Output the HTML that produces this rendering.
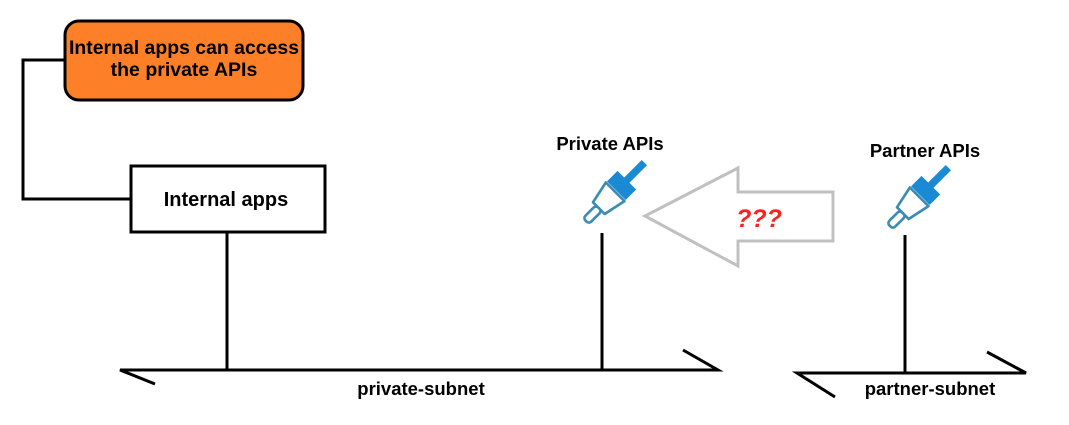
<!DOCTYPE html>
<html><head><meta charset="utf-8"><style>
body{margin:0;background:#fff;width:1069px;height:420px;overflow:hidden;font-family:"Liberation Sans",Arial,sans-serif}
</style></head><body>
<svg width="1069" height="420" viewBox="0 0 1069 420" xmlns="http://www.w3.org/2000/svg" font-family="Liberation Sans, Arial, sans-serif">
<defs>
<g id="plug">
<line x1="0" y1="-14" x2="0" y2="-32" stroke="#1a8ad4" stroke-width="4.5"/>
<rect x="-8" y="-17" width="16" height="9" fill="#1a8ad4"/>
<path d="M-8,-7 L8,-7 L5,7 L-5,7 Z" fill="#fff" stroke="#3a8bb5" stroke-width="1.6" stroke-linejoin="round"/>
<rect x="-2.5" y="7" width="5" height="11" rx="2" fill="#fff" stroke="#3a8bb5" stroke-width="1.6"/>
</g>
</defs>
<polyline points="64,60 23,60 23,199 130,199" fill="none" stroke="#000" stroke-width="3"/>
<rect x="65" y="21" width="238" height="79" rx="14" fill="#fd7f28" stroke="#000" stroke-width="3"/>
<text x="184" y="54" text-anchor="middle" font-size="19.5" font-weight="bold" textLength="230" lengthAdjust="spacingAndGlyphs">Internal apps can access</text>
<text x="184" y="76" text-anchor="middle" font-size="19.5" font-weight="bold">the private APIs</text>
<rect x="131" y="166" width="194" height="66" fill="#fff" stroke="#000" stroke-width="3"/>
<text x="226" y="206" text-anchor="middle" font-size="20" font-weight="bold">Internal apps</text>
<line x1="227" y1="232" x2="227" y2="370" stroke="#000" stroke-width="3"/>
<line x1="602" y1="233" x2="602" y2="370" stroke="#000" stroke-width="3"/>
<polyline points="155,384 120,370 718,370 683,350" fill="none" stroke="#000" stroke-width="3"/>
<text x="421" y="395" text-anchor="middle" font-size="18.5" font-weight="bold">private-subnet</text>
<line x1="905" y1="235" x2="905" y2="373" stroke="#000" stroke-width="3"/>
<polyline points="835,397 797,373 1026,373 987,352" fill="none" stroke="#000" stroke-width="3"/>
<text x="930" y="395" text-anchor="middle" font-size="18.5" font-weight="bold">partner-subnet</text>
<polygon points="645,216 738,168 738,192 833,192 833,241 738,241 738,266" fill="#fff" stroke="#c0c0c0" stroke-width="3"/>
<text x="759" y="227" text-anchor="middle" font-size="25" font-weight="bold" font-style="italic" fill="#ff2020">???</text>
<text x="610" y="150" text-anchor="middle" font-size="18.5" font-weight="bold">Private APIs</text>
<text x="925" y="157" text-anchor="middle" font-size="18.5" font-weight="bold">Partner APIs</text>
<g transform="translate(607,200) rotate(45) scale(1.65)"><use href="#plug"/></g>
<g transform="translate(911,205) rotate(45) scale(1.65)"><use href="#plug"/></g>
</svg>
</body></html>
